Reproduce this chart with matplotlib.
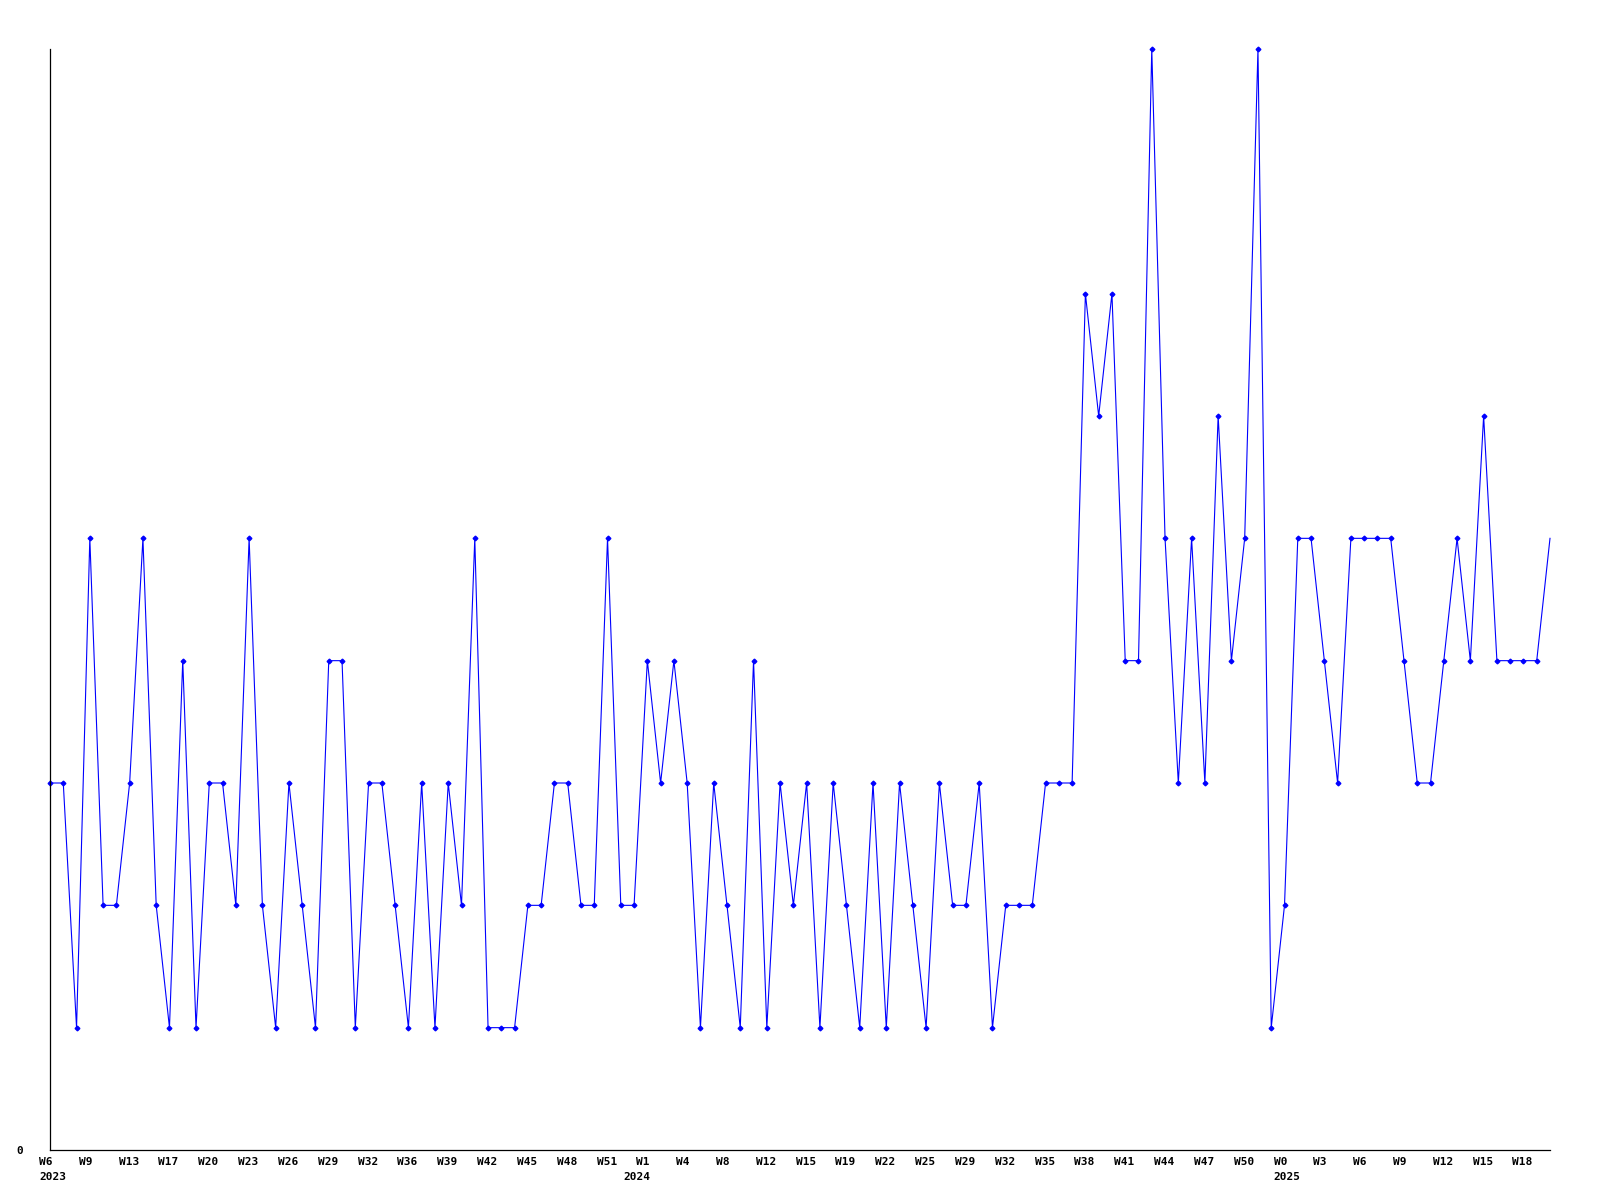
import matplotlib.pyplot as plt
import matplotlib.transforms as mtransforms

# weekly counts
counts = [
    3, 3, 1, 5, 2, 2, 3, 5, 2, 1,
    4, 1, 3, 3, 2, 5, 2, 1, 3, 2,
    1, 4, 4, 1, 3, 3, 2, 1, 3, 1,
    3, 2, 5, 1, 1, 1, 2, 2, 3, 3,
    2, 2, 5, 2, 2, 4, 3, 4, 3, 1,
    3, 2, 1, 4, 1, 3, 2, 3, 1, 3,
    2, 1, 3, 1, 3, 2, 1, 3, 2, 2,
    3, 1, 2, 2, 2, 3, 3, 3, 7, 6,
    7, 4, 4, 9, 5, 3, 5, 3, 6, 4,
    5, 9, 1, 2, 5, 5, 4, 3, 5, 5,
    5, 5, 4, 3, 3, 4, 5, 4, 6, 4,
    4, 4, 4, 5,
]

week_labels = [
    "W6", "W9", "W13", "W17", "W20", "W23", "W26", "W29", "W32", "W36",
    "W39", "W42", "W45", "W48", "W51", "W1", "W4", "W8", "W12", "W15",
    "W19", "W22", "W25", "W29", "W32", "W35", "W38", "W41", "W44", "W47",
    "W50", "W0", "W3", "W6", "W9", "W12", "W15", "W18",
]
year_labels = ["2023", "2024", "2025"]
year_index = [0, 44, 93]

FONT = dict(family="DejaVu Sans Mono", fontweight="bold", fontsize=8)


def main():
    fig = plt.figure(figsize=(16, 12), dpi=100)
    ax = fig.add_axes([50 / 1600, 1 - 1150 / 1200, 1500 / 1600, 1101 / 1200])

    x = list(range(len(counts)))
    ax.plot(x, counts, color="#0000ff", linewidth=0.8, marker="D",
            markersize=2.4, markevery=list(range(len(counts) - 1)),
            clip_on=False)

    ax.set_xlim(0, len(counts) - 1)
    ax.set_ylim(0, 9)
    for side in ["top", "right"]:
        ax.spines[side].set_visible(False)
    for side in ["left", "bottom"]:
        ax.spines[side].set_linewidth(0.9)
        ax.spines[side].set_color("black")

    ax.set_xticks([])
    ax.set_yticks([0])
    ax.set_yticklabels(["0"], **FONT)
    ax.tick_params(axis="y", length=0, pad=19)

    # week labels every 3rd point, left aligned slightly before the point
    trans = ax.get_xaxis_transform()
    for k, lab in enumerate(week_labels):
        off = mtransforms.ScaledTranslation(-11 / 100, -12 / 100, fig.dpi_scale_trans)
        ax.text(3 * k, 0, lab, transform=trans + off, ha="left", va="center",
                clip_on=False, **FONT)
    for idx, lab in zip(year_index, year_labels):
        off = mtransforms.ScaledTranslation(-11 / 100, -27 / 100, fig.dpi_scale_trans)
        ax.text(idx, 0, lab, transform=trans + off, ha="left", va="center",
                clip_on=False, **FONT)

    fig.savefig("out.png", dpi=100)
    plt.close(fig)


if __name__ == "__main__":
    main()
